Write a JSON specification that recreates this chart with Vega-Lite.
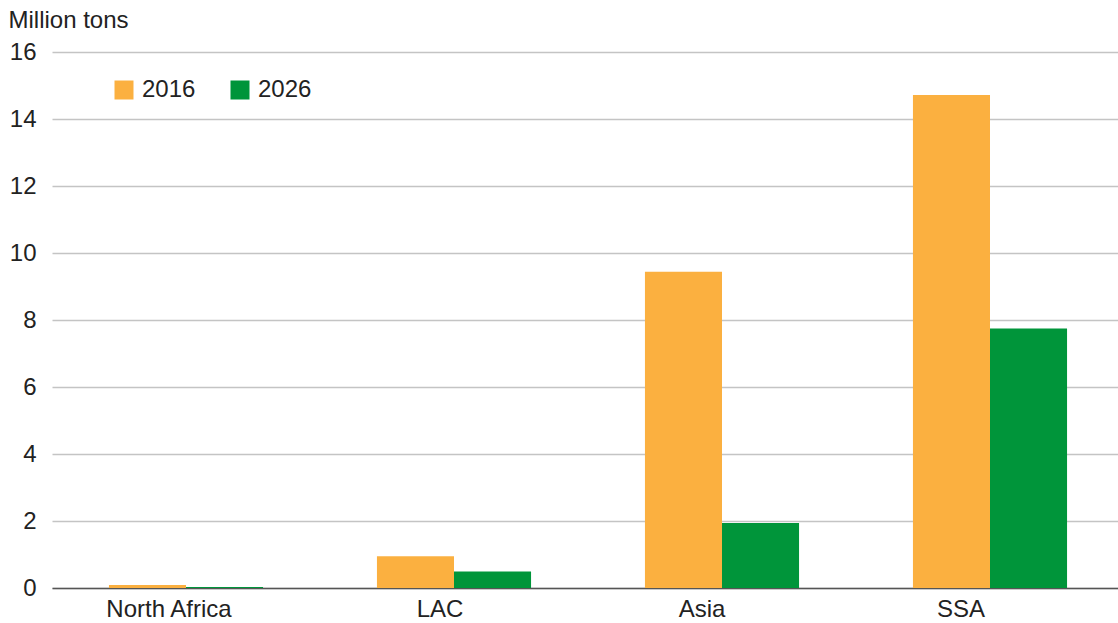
{
  "$schema": "https://vega.github.io/schema/vega-lite/v6.json",
  "width": 1072,
  "height": 536,
  "autosize": {"type": "none"},
  "padding": {"left": 52, "top": 52, "right": -6, "bottom": 35},
  "background": "white",
  "config": {
    "font": "Liberation Sans",
    "view": {"stroke": null}
  },
  "data": {
    "values": [
      {"region": "North Africa", "year": "2016", "value": 0.09},
      {"region": "North Africa", "year": "2026", "value": 0.03},
      {"region": "LAC", "year": "2016", "value": 0.95},
      {"region": "LAC", "year": "2026", "value": 0.49},
      {"region": "Asia", "year": "2016", "value": 9.44},
      {"region": "Asia", "year": "2026", "value": 1.94},
      {"region": "SSA", "year": "2016", "value": 14.72},
      {"region": "SSA", "year": "2026", "value": 7.75}
    ]
  },
  "mark": {"type": "bar"},
  "encoding": {
    "x": {
      "field": "region",
      "type": "nominal",
      "sort": ["North Africa", "LAC", "Asia", "SSA"],
      "scale": {"paddingInner": 0.425, "paddingOuter": 0.2125},
      "axis": {
        "title": null,
        "labelAngle": 0,
        "labelFontSize": 24,
        "labelColor": "#222222",
        "labelPadding": 9,
        "labelOffset": {"expr": "datum.value === 'North Africa' ? -17 : datum.value === 'LAC' ? -14 : datum.value === 'Asia' ? -20 : -29"},
        "ticks": false,
        "domainColor": "#555555",
        "domainWidth": 1.5
      }
    },
    "xOffset": {"field": "year", "type": "nominal", "scale": {"paddingInner": 0, "paddingOuter": 0}},
    "y": {
      "field": "value",
      "type": "quantitative",
      "scale": {"domain": [0, 16]},
      "axis": {
        "values": [0, 2, 4, 6, 8, 10, 12, 14, 16],
        "title": "Million tons",
        "titleAngle": 0,
        "titleAlign": "left",
        "titleBaseline": "alphabetic",
        "titleX": -44,
        "titleY": -25,
        "titleFontSize": 24,
        "titleFontWeight": "normal",
        "titleColor": "#222222",
        "labelFontSize": 24,
        "labelColor": "#222222",
        "labelPadding": 16,
        "ticks": false,
        "domain": false,
        "gridColor": "#c4c4c4",
        "gridWidth": 1.5
      }
    },
    "color": {
      "field": "year",
      "type": "nominal",
      "scale": {"domain": ["2016", "2026"], "range": ["#FBB040", "#00953A"]},
      "legend": {
        "title": null,
        "orient": "none",
        "direction": "horizontal",
        "legendX": 60,
        "legendY": 26,
        "symbolType": "square",
        "symbolSize": 361,
        "symbolStrokeWidth": 0,
        "labelFontSize": 24,
        "labelColor": "#222222",
        "labelOffset": 6,
        "columnPadding": 32,
        "padding": 0
      }
    }
  }
}
